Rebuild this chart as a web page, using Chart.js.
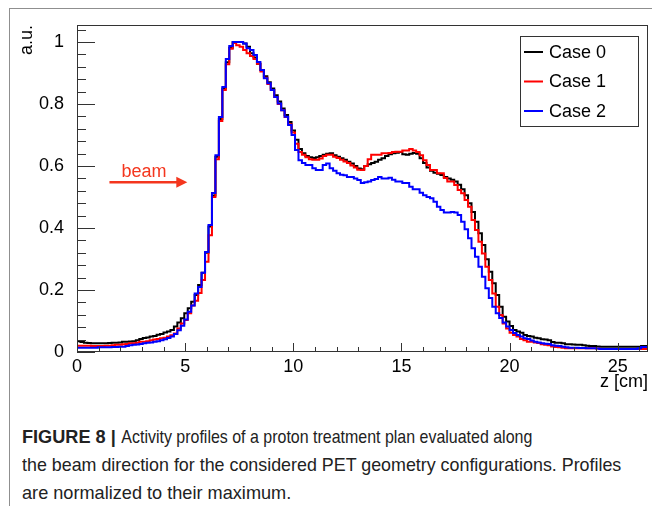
<!DOCTYPE html>
<html lang="en">
<head>
  <meta charset="UTF-8">
  <title>Activity profiles along the beam direction</title>
  <script src="https://cdn.jsdelivr.net/npm/chart.js"></script>
  <style>
    html, body { margin: 0; padding: 0; background: #fff; }
    body { width: 652px; height: 506px; position: relative; overflow: hidden; }
    .page-frame {
      position: absolute; left: 9px; top: 8px; right: 0; bottom: 0;
      border-top: 1px solid #8f8f8f; border-left: 1px solid #8f8f8f;
    }
    #profile { position: absolute; left: 0; top: 0; }
    .caption {
      position: absolute; left: 22px; top: 423px;
      font-family: 'Liberation Sans', Arial, sans-serif;
      font-size: 19px; line-height: 28px; color: #222; white-space: nowrap;
    }
    .caption .ln { display: block; transform-origin: 0 0; }
    .caption .ln1 { transform: scaleX(0.955); }
    .caption .ln1 .rest { display: inline-block; transform: scaleX(0.88); transform-origin: 0 0; }
    .caption .ln2 { transform: scaleX(0.94); }
    .caption .ln3 { transform: scaleX(0.955); }
    .caption b { font-weight: bold; }
  </style>
</head>
<body>
  <div class="page-frame"></div>
  <canvas id="profile" width="652" height="400"></canvas>
  <div class="caption">
    <span class="ln ln1"><b>FIGURE 8 |</b> <span class="rest">Activity profiles of a proton treatment plan evaluated along</span></span>
    <span class="ln ln2">the beam direction for the considered PET geometry configurations. Profiles</span>
    <span class="ln ln3">are normalized to their maximum.</span>
  </div>

  <script>
    // histogram binning along z [cm]
    const binWidth = 0.16;
    const zMax = 26.4;
    const yMax = 1.055;

    const xTicks = [0, 5, 10, 15, 20, 25];
    const yTicks = [0, 0.2, 0.4, 0.6, 0.8, 1];

    const seriesNames = ['Case 0', 'Case 1', 'Case 2'];
    const seriesColors = ['#000000', '#ff0000', '#0000ff'];

    const case0 = [
      0.035, 0.032, 0.030, 0.029, 0.028, 0.028, 0.028, 0.028, 0.028, 0.029,
      0.030, 0.030, 0.031, 0.033, 0.033, 0.034, 0.035, 0.038, 0.042, 0.045,
      0.047, 0.050, 0.052, 0.056, 0.058, 0.063, 0.066, 0.071, 0.082, 0.095,
      0.109, 0.125, 0.141, 0.162, 0.184, 0.216, 0.256, 0.320, 0.405, 0.505,
      0.630, 0.752, 0.850, 0.935, 0.982, 1.000, 1.000, 1.000, 0.995, 0.985,
      0.964, 0.950, 0.930, 0.910, 0.890, 0.870, 0.850, 0.828, 0.808, 0.786,
      0.765, 0.742, 0.715, 0.685, 0.655, 0.641, 0.632, 0.628, 0.626, 0.628,
      0.632, 0.636, 0.640, 0.641, 0.635, 0.630, 0.625, 0.620, 0.614, 0.608,
      0.600, 0.592, 0.590, 0.600, 0.606, 0.610, 0.614, 0.620, 0.625, 0.632,
      0.638, 0.641, 0.643, 0.645, 0.638, 0.636, 0.640, 0.642, 0.640, 0.625,
      0.610, 0.595, 0.585, 0.578, 0.575, 0.571, 0.565, 0.560, 0.556, 0.550,
      0.540, 0.525, 0.506, 0.480, 0.452, 0.420, 0.383, 0.345, 0.299, 0.259,
      0.222, 0.184, 0.146, 0.114, 0.098, 0.084, 0.071, 0.066, 0.062, 0.055,
      0.052, 0.050, 0.046, 0.044, 0.041, 0.040, 0.038, 0.032, 0.030, 0.030,
      0.028, 0.025, 0.025, 0.024, 0.023, 0.023, 0.022, 0.020, 0.019, 0.019,
      0.018, 0.017, 0.017, 0.017, 0.017, 0.017, 0.017, 0.017, 0.017, 0.017,
      0.017, 0.017, 0.017, 0.019, 0.019
    ];

    const case1 = [
      0.020, 0.020, 0.020, 0.020, 0.019, 0.019, 0.019, 0.019, 0.020, 0.020,
      0.022, 0.023, 0.023, 0.025, 0.026, 0.028, 0.028, 0.030, 0.033, 0.033,
      0.035, 0.038, 0.040, 0.042, 0.044, 0.046, 0.050, 0.054, 0.060, 0.076,
      0.092, 0.103, 0.125, 0.150, 0.165, 0.190, 0.232, 0.291, 0.377, 0.500,
      0.622, 0.745, 0.845, 0.928, 0.978, 0.997, 0.990, 0.985, 0.974, 0.964,
      0.955, 0.945, 0.930, 0.905, 0.885, 0.865, 0.845, 0.823, 0.800, 0.780,
      0.758, 0.735, 0.708, 0.672, 0.645, 0.636, 0.628, 0.622, 0.620, 0.620,
      0.624, 0.632, 0.636, 0.636, 0.630, 0.626, 0.620, 0.615, 0.610, 0.602,
      0.595, 0.588, 0.587, 0.600, 0.622, 0.636, 0.636, 0.636, 0.641, 0.641,
      0.642, 0.645, 0.646, 0.646, 0.650, 0.650, 0.655, 0.650, 0.645, 0.635,
      0.619, 0.603, 0.587, 0.587, 0.577, 0.577, 0.561, 0.550, 0.550, 0.539,
      0.523, 0.512, 0.490, 0.469, 0.426, 0.394, 0.356, 0.318, 0.275, 0.232,
      0.189, 0.146, 0.119, 0.092, 0.076, 0.062, 0.055, 0.050, 0.042, 0.038,
      0.033, 0.033, 0.031, 0.029, 0.025, 0.023, 0.022, 0.018, 0.016, 0.015,
      0.014, 0.012, 0.012, 0.012, 0.012, 0.012, 0.012, 0.012, 0.012, 0.012,
      0.011, 0.010, 0.010, 0.010, 0.010, 0.010, 0.010, 0.010, 0.010, 0.010,
      0.010, 0.010, 0.010, 0.010, 0.010
    ];

    const case2 = [
      0.014, 0.014, 0.014, 0.014, 0.014, 0.014, 0.015, 0.015, 0.015, 0.015,
      0.016, 0.016, 0.017, 0.017, 0.019, 0.022, 0.023, 0.024, 0.026, 0.028,
      0.030, 0.031, 0.033, 0.035, 0.038, 0.041, 0.045, 0.050, 0.058, 0.070,
      0.085, 0.105, 0.130, 0.150, 0.189, 0.210, 0.256, 0.323, 0.410, 0.513,
      0.635, 0.758, 0.855, 0.945, 0.987, 1.000, 1.000, 1.000, 0.995, 0.980,
      0.974, 0.958, 0.936, 0.910, 0.883, 0.867, 0.845, 0.823, 0.802, 0.780,
      0.759, 0.732, 0.700, 0.652, 0.619, 0.610, 0.603, 0.603, 0.593, 0.587,
      0.587, 0.603, 0.608, 0.593, 0.585, 0.577, 0.572, 0.570, 0.565, 0.565,
      0.560, 0.555, 0.545, 0.548, 0.550, 0.555, 0.558, 0.565, 0.560, 0.560,
      0.562, 0.556, 0.550, 0.550, 0.545, 0.545, 0.533, 0.525, 0.525, 0.514,
      0.506, 0.500, 0.496, 0.485, 0.469, 0.458, 0.450, 0.450, 0.452, 0.450,
      0.442, 0.420, 0.396, 0.367, 0.335, 0.307, 0.275, 0.243, 0.206, 0.174,
      0.146, 0.125, 0.110, 0.095, 0.082, 0.071, 0.061, 0.055, 0.050, 0.044,
      0.042, 0.037, 0.033, 0.031, 0.028, 0.027, 0.026, 0.022, 0.020, 0.019,
      0.017, 0.015, 0.014, 0.014, 0.014, 0.013, 0.013, 0.012, 0.012, 0.012,
      0.011, 0.010, 0.010, 0.010, 0.010, 0.010, 0.010, 0.010, 0.010, 0.010,
      0.010, 0.010, 0.012, 0.016, 0.016
    ];

    const FONT = '"Liberation Sans", Arial, sans-serif';
    const beamColor = '#f4361e';

    // bin contents -> step points at lower bin edges, closed at the last upper edge
    function toSteps(values) {
      const pts = values.map((v, i) => ({ x: +(i * binWidth).toFixed(3), y: v }));
      pts.push({ x: +(values.length * binWidth).toFixed(3), y: values[values.length - 1] });
      return pts;
    }

    // ROOT-like frame: inward ticks, axis titles, boxed legend, beam arrow
    const rootStyle = {
      id: 'rootStyle',
      afterDraw(chart) {
        const { ctx, chartArea: a, scales: { x, y } } = chart;
        ctx.save();

        ctx.strokeStyle = '#333';
        ctx.lineWidth = 1;
        ctx.strokeRect(a.left + 0.5, a.top + 0.5, a.right - a.left - 1, a.bottom - a.top - 1);

        ctx.beginPath();
        for (let k = 0; k * 0.04 <= yMax; k++) {
          const py = Math.round(y.getPixelForValue(k * 0.04)) + 0.5;
          const len = k % 5 === 0 ? 18 : 9;
          ctx.moveTo(a.left, py);
          ctx.lineTo(a.left + len, py);
        }
        for (let k = 0; k <= zMax; k++) {
          const px = Math.round(x.getPixelForValue(k)) + 0.5;
          const len = k % 5 === 0 ? 9 : 5;
          ctx.moveTo(px, a.bottom);
          ctx.lineTo(px, a.bottom - len);
        }
        ctx.stroke();

        ctx.fillStyle = '#000';
        ctx.font = '18px ' + FONT;
        ctx.textBaseline = 'alphabetic';
        ctx.textAlign = 'right';
        ctx.fillText('z [cm]', a.right, 387);

        ctx.save();
        ctx.translate(32, a.top);
        ctx.rotate(-Math.PI / 2);
        ctx.textAlign = 'right';
        ctx.fillText('a.u.', 0, 0);
        ctx.restore();

        // legend box
        const lx = 520, ly = 36, lw = 118, lh = 90;
        ctx.fillStyle = '#fff';
        ctx.fillRect(lx, ly, lw, lh);
        ctx.strokeStyle = '#333';
        ctx.strokeRect(lx + 0.5, ly + 0.5, lw, lh);
        ctx.textAlign = 'left';
        ctx.textBaseline = 'middle';
        chart.data.datasets.forEach((ds, i) => {
          const ey = 52 + i * 29.5;
          ctx.strokeStyle = ds.borderColor;
          ctx.lineWidth = 2;
          ctx.beginPath();
          ctx.moveTo(524, ey);
          ctx.lineTo(543, ey);
          ctx.stroke();
          ctx.fillStyle = '#000';
          ctx.fillText(ds.label, 549, ey + 1);
        });

        // beam label and arrow
        const ax0 = x.getPixelForValue(1.5), ax1 = x.getPixelForValue(5.1);
        const ay = y.getPixelForValue(0.548);
        ctx.fillStyle = beamColor;
        ctx.strokeStyle = beamColor;
        ctx.textAlign = 'center';
        ctx.textBaseline = 'alphabetic';
        ctx.fillText('beam', x.getPixelForValue(3.1), ay - 5);
        ctx.lineWidth = 2.5;
        ctx.beginPath();
        ctx.moveTo(ax0, ay);
        ctx.lineTo(ax1 - 8, ay);
        ctx.stroke();
        ctx.beginPath();
        ctx.moveTo(ax1, ay);
        ctx.lineTo(ax1 - 11, ay - 5.5);
        ctx.lineTo(ax1 - 11, ay + 5.5);
        ctx.closePath();
        ctx.fill();

        ctx.restore();
      }
    };

    const allSeries = [case0, case1, case2];

    new Chart(document.getElementById('profile'), {
      type: 'line',
      data: {
        datasets: allSeries.map((vals, i) => ({
          label: seriesNames[i],
          data: toSteps(vals),
          borderColor: seriesColors[i],
          borderWidth: 2,
          stepped: true,
          fill: false,
          pointRadius: 0,
          order: 3 - i
        }))
      },
      options: {
        responsive: false,
        animation: false,
        devicePixelRatio: 1,
        layout: { padding: { left: 0, top: 25, right: 4, bottom: 0 } },
        plugins: {
          legend: { display: false },
          tooltip: { enabled: false }
        },
        scales: {
          x: {
            type: 'linear',
            min: 0,
            max: zMax,
            grid: { display: false },
            border: { display: false },
            afterBuildTicks: s => { s.ticks = xTicks.map(v => ({ value: v })); },
            afterFit: s => { s.height = 48; },
            ticks: {
              padding: -4,
              color: '#000',
              maxRotation: 0,
              autoSkip: false,
              font: { family: FONT, size: 18 },
              callback: v => String(v)
            }
          },
          y: {
            min: 0,
            max: yMax,
            grid: { display: false },
            border: { display: false },
            afterBuildTicks: s => { s.ticks = yTicks.map(v => ({ value: v })); },
            afterFit: s => { s.width = 77; },
            ticks: {
              padding: 5,
              color: '#000',
              autoSkip: false,
              font: { family: FONT, size: 18 },
              callback: v => String(v)
            }
          }
        }
      },
      plugins: [rootStyle]
    });
  </script>
</body>
</html>
